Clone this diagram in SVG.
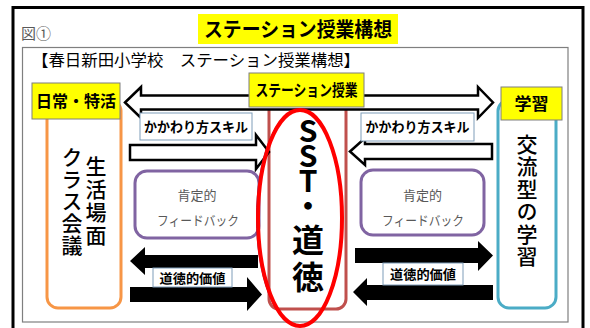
<svg xmlns="http://www.w3.org/2000/svg" width="590" height="328" viewBox="0 0 590 328">
<style>
  .jp { font-family: "Noto Sans CJK JP", sans-serif; }
  .ybox { fill: #FFFF00; stroke: #7F7F7F; stroke-width: 1; }
  .hd { font-family: "Noto Sans CJK JP", sans-serif; font-weight: bold; fill: #000; text-anchor: middle; }
  .lbl { fill: #FFFFFF; stroke: #7F9DB9; stroke-width: 1; }
  .lbltxt { font-family: "Noto Sans CJK JP", sans-serif; font-weight: bold; fill: #000; text-anchor: middle; }
  .warrow { fill: #FFFFFF; stroke: #000; stroke-width: 2.5; stroke-linejoin: miter; }
  .barrow { fill: #000; }
  .fb { fill: #FFFFFF; stroke: #8064A2; stroke-width: 3; }
  .fbtxt { font-family: "Noto Sans CJK JP", sans-serif; font-size: 13px; fill: #595959; text-anchor: middle; }
  .vt { font-family: "Noto Sans CJK JP", sans-serif; font-size: 21px; font-weight: 500; fill: #000; writing-mode: vertical-rl; }
</style>
<rect x="0" y="0" width="590" height="328" fill="#FFFFFF"/>
<!-- frames -->
<g id="frame">
  <rect x="13" y="7.5" width="570" height="340" fill="none" stroke="#000" stroke-width="3"/>
  <rect x="22.5" y="47.5" width="545.5" height="274.5" fill="none" stroke="#7F7F7F" stroke-width="1.2"/>
  <text x="21" y="39" class="jp" font-size="15" fill="#595959">図①</text>
</g>
<g id="title">
  <rect x="198" y="14" width="200" height="30" fill="#FFFF00"/>
  <text x="298" y="37" class="hd" font-size="20" textLength="188" lengthAdjust="spacingAndGlyphs">ステーション授業構想</text>
</g>
<g id="subtitle">
  <text x="32" y="66" class="jp" font-size="16" fill="#000" textLength="328" lengthAdjust="spacingAndGlyphs">【春日新田小学校　ステーション授業構想】</text>
</g>

<!-- left column -->
<g id="left-col">
  <rect x="47" y="100" width="74" height="208" rx="11" fill="#FFFFFF" stroke="#F79646" stroke-width="3"/>
  <rect x="32" y="83" width="88" height="36" class="ybox"/>
  <text x="76" y="107" class="hd" font-size="16">日常・特活</text>
  <text x="96" y="155.5" class="vt" letter-spacing="2">生活場面</text>
  <text x="72" y="146.5" class="vt" letter-spacing="1">クラス会議</text>
</g>

<!-- right column -->
<g id="right-col">
  <rect x="498" y="100" width="58" height="208" rx="11" fill="#FFFFFF" stroke="#4BACC6" stroke-width="3"/>
  <rect x="501" y="87" width="61" height="33" class="ybox"/>
  <text x="531.5" y="110" class="hd" font-size="17">学習</text>
  <text x="527" y="133.5" class="vt" letter-spacing="1.5">交流型の学習</text>
</g>

<!-- center column base -->
<g id="center-col">
  <rect x="269" y="100" width="77" height="209" rx="10" fill="#FFFFFF" stroke="#C0504D" stroke-width="3"/>
</g>

<!-- feedback boxes -->
<g id="fb-left">
  <rect x="135" y="171" width="124" height="67" rx="12" class="fb"/>
  <text x="197" y="200" class="fbtxt">肯定的</text>
  <text x="198" y="225" class="fbtxt" textLength="82" lengthAdjust="spacingAndGlyphs">フィードバック</text>
</g>
<g id="fb-right">
  <rect x="361" y="170" width="123" height="65" rx="12" class="fb"/>
  <text x="422.5" y="200" class="fbtxt">肯定的</text>
  <text x="423" y="225" class="fbtxt" textLength="82" lengthAdjust="spacingAndGlyphs">フィードバック</text>
</g>

<!-- connectors -->
<g id="connectors">
  <polygon class="warrow" points="125,102.5 141,87 141,95.5 478,95.5 478,87 493,102.5 478,118 478,109.5 141,109.5 141,118"/>
  <polygon class="warrow" points="130,145 256,145 256,135 269,152 256,169 256,160 130,160"/>
  <polygon class="warrow" points="350,151.5 365,138 365,144 492,144 492,159 365,159 365,165"/>
  <polygon class="barrow" points="130,261 145,247 145,255 258,255 258,268 145,268 145,275"/>
  <polygon class="barrow" points="130,287 247,287 247,277 262,294.5 247,311 247,302 130,302"/>
  <polygon class="barrow" points="355,248 478,248 478,241 493,255.5 478,271 478,263 355,263"/>
  <polygon class="barrow" points="353,292 367,278 367,285 493,285 493,300 367,300 367,306"/>
</g>

<!-- connector labels -->
<g id="label-skill-left">
  <rect x="140" y="113" width="112" height="27" class="lbl"/>
  <text x="196" y="132" class="lbltxt" font-size="13.5" textLength="104" lengthAdjust="spacingAndGlyphs">かかわり方スキル</text>
</g>
<g id="label-skill-right">
  <rect x="361" y="113" width="113" height="28" class="lbl"/>
  <text x="417.5" y="132" class="lbltxt" font-size="13.5" textLength="104" lengthAdjust="spacingAndGlyphs">かかわり方スキル</text>
</g>
<g id="label-moral-left">
  <rect x="153" y="268" width="79" height="19" class="lbl"/>
  <text x="192.5" y="283" class="lbltxt" font-size="13" textLength="66" lengthAdjust="spacingAndGlyphs">道徳的価値</text>
</g>
<g id="label-moral-right">
  <rect x="383" y="263" width="80" height="22" class="lbl"/>
  <text x="423" y="279" class="lbltxt" font-size="13" textLength="66" lengthAdjust="spacingAndGlyphs">道徳的価値</text>
</g>

<!-- center content -->
<g id="center-main">
  <ellipse cx="299" cy="218" rx="42.5" ry="108" fill="none" stroke="#1F3F9F" stroke-width="1"/>
  <ellipse cx="300" cy="218" rx="42" ry="108" fill="none" stroke="#FF0000" stroke-width="4"/>
  <text x="308" y="115.6" font-family="'Noto Sans CJK JP', sans-serif" font-weight="bold" font-size="30" fill="#000" style="writing-mode: vertical-rl; text-orientation: upright;"><tspan letter-spacing="-5">SST</tspan><tspan letter-spacing="3.4">・</tspan><tspan font-size="32" letter-spacing="5">道徳</tspan></text>
</g>
<g id="station-label">
  <rect x="249" y="73" width="115" height="34" class="ybox"/>
  <text x="306.5" y="96" class="hd" font-size="16" textLength="102" lengthAdjust="spacingAndGlyphs">ステーション授業</text>
</g>
</svg>
